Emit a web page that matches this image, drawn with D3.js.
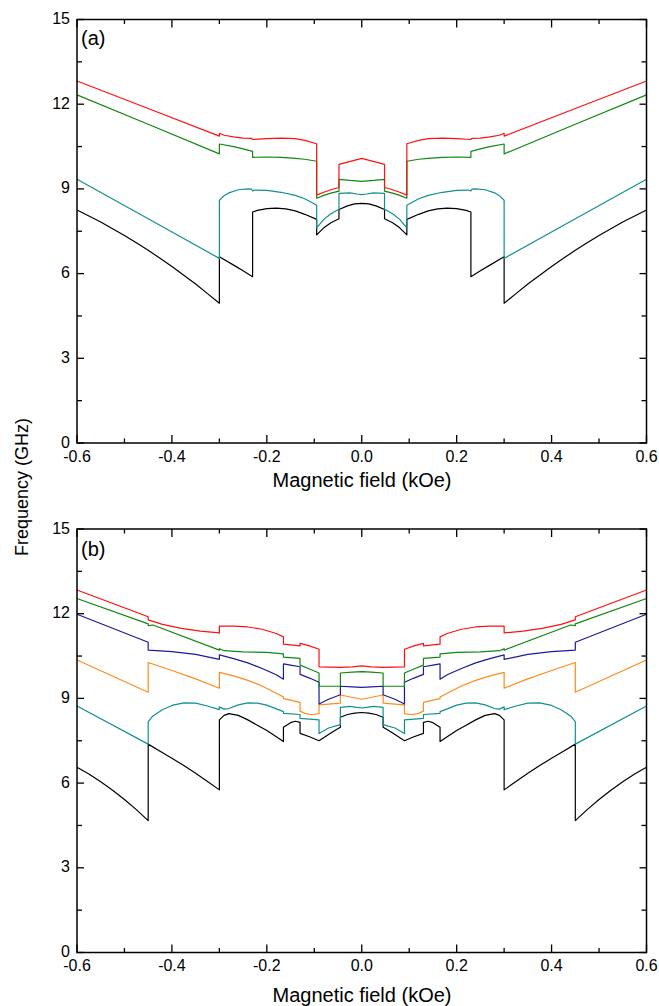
<!DOCTYPE html>
<html><head><meta charset="utf-8">
<script src="https://cdn.jsdelivr.net/npm/d3@7"></script>
<style>body{margin:0;background:#fff}svg{display:block}</style>
</head><body>
<script>
// ---- tick labels ----
const xTickLabels = ["-0.6", "-0.4", "-0.2", "0.0", "0.2", "0.4", "0.6"];
const yTickLabels = [0, 3, 6, 9, 12, 15];

// ---- panel (a) series : [field kOe, frequency GHz] ----
const aBlack = [[-0.6,8.25],[-0.575,8.04],[-0.55,7.83],[-0.525,7.59],[-0.5,7.35],[-0.475,7.09],[-0.45,6.83],[-0.425,6.54],[-0.4,6.25],[-0.375,5.94],[-0.35,5.63],[-0.325,5.29],[-0.3,4.95],[-0.3,6.6],[-0.27,6.3],[-0.25,6.1],[-0.23,5.89],[-0.23,8.18],[-0.22,8.24],[-0.2,8.3],[-0.18,8.32],[-0.16,8.29],[-0.14,8.22],[-0.12,8.1],[-0.095,7.92],[-0.095,7.37],[-0.08,7.62],[-0.065,7.8],[-0.048,7.94],[-0.048,8.27],[-0.03,8.4],[-0.015,8.47],[0,8.49],
  [0.015,8.47],[0.03,8.4],[0.048,8.27],[0.048,7.94],[0.065,7.8],[0.08,7.62],[0.095,7.37],[0.095,7.92],[0.12,8.1],[0.14,8.22],[0.16,8.29],[0.18,8.32],[0.2,8.3],[0.22,8.24],[0.23,8.18],[0.23,5.89],[0.25,6.1],[0.27,6.3],[0.3,6.6],[0.3,4.95],[0.325,5.29],[0.35,5.63],[0.375,5.94],[0.4,6.25],[0.425,6.54],[0.45,6.83],[0.475,7.09],[0.5,7.35],[0.525,7.59],[0.55,7.83],[0.575,8.04],[0.6,8.25]];
const aTeal = [[-0.6,9.34],[-0.45,7.94],[-0.3,6.54],[-0.3,8.6],[-0.29,8.76],[-0.28,8.86],[-0.26,8.97],[-0.24,9.0],[-0.232,8.99],[-0.23,8.93],[-0.225,8.96],[-0.2,8.95],[-0.17,8.88],[-0.14,8.77],[-0.12,8.65],[-0.095,8.42],[-0.095,7.62],[-0.08,7.92],[-0.065,8.12],[-0.048,8.28],[-0.048,8.84],[-0.025,8.86],[-0.01,8.82],[0,8.8],
  [0.01,8.82],[0.025,8.86],[0.048,8.84],[0.048,8.28],[0.065,8.12],[0.08,7.92],[0.095,7.62],[0.095,8.42],[0.12,8.65],[0.14,8.77],[0.17,8.88],[0.2,8.95],[0.225,8.96],[0.23,8.93],[0.232,8.99],[0.24,9.0],[0.26,8.97],[0.28,8.86],[0.29,8.76],[0.3,8.6],[0.3,6.54],[0.45,7.94],[0.6,9.34]];
const aGreen = [[-0.6,12.33],[-0.45,11.29],[-0.3,10.24],[-0.3,10.59],[-0.27,10.5],[-0.25,10.42],[-0.23,10.33],[-0.23,10.12],[-0.2,10.13],[-0.17,10.12],[-0.14,10.08],[-0.12,10.05],[-0.095,9.98],[-0.095,8.67],[-0.08,8.77],[-0.065,8.85],[-0.048,8.92],[-0.048,9.34],[-0.025,9.3],[0,9.27],
  [0.025,9.3],[0.048,9.34],[0.048,8.92],[0.065,8.85],[0.08,8.77],[0.095,8.67],[0.095,9.98],[0.12,10.05],[0.14,10.08],[0.17,10.12],[0.2,10.13],[0.23,10.12],[0.23,10.33],[0.25,10.42],[0.27,10.5],[0.3,10.59],[0.3,10.24],[0.45,11.29],[0.6,12.33]];
const aRed = [[-0.6,12.82],[-0.45,11.85],[-0.3,10.87],[-0.3,10.97],[-0.29,10.9],[-0.27,10.84],[-0.25,10.8],[-0.232,10.79],[-0.23,10.75],[-0.2,10.78],[-0.17,10.8],[-0.14,10.78],[-0.12,10.72],[-0.095,10.6],[-0.095,8.78],[-0.08,8.88],[-0.065,8.97],[-0.048,9.05],[-0.048,9.87],[0,10.08],
  [0.048,9.87],[0.048,9.05],[0.065,8.97],[0.08,8.88],[0.095,8.78],[0.095,10.6],[0.12,10.72],[0.14,10.78],[0.17,10.8],[0.2,10.78],[0.23,10.75],[0.232,10.79],[0.25,10.8],[0.27,10.84],[0.29,10.9],[0.3,10.97],[0.3,10.87],[0.45,11.85],[0.6,12.82]];

// ---- panel (b) series ----
const bBlack = [[-0.6,6.56],[-0.575,6.32],[-0.55,6.05],[-0.525,5.75],[-0.5,5.42],[-0.475,5.06],[-0.45,4.67],[-0.45,7.38],[-0.425,7.13],[-0.4,6.88],[-0.375,6.62],[-0.35,6.35],[-0.325,6.06],[-0.3,5.76],[-0.3,8.24],[-0.29,8.4],[-0.28,8.46],[-0.26,8.4],[-0.24,8.24],[-0.22,8.05],[-0.2,7.86],[-0.18,7.64],[-0.165,7.47],[-0.165,7.98],[-0.15,8.14],[-0.14,8.19],[-0.13,8.15],[-0.13,7.76],[-0.11,7.64],[-0.09,7.5],[-0.07,7.72],[-0.055,7.88],[-0.045,7.98],[-0.045,8.33],[-0.03,8.43],[-0.015,8.48],[0,8.5],
  [0.015,8.48],[0.03,8.43],[0.045,8.33],[0.045,7.98],[0.055,7.88],[0.07,7.72],[0.09,7.5],[0.11,7.64],[0.13,7.76],[0.13,8.15],[0.14,8.19],[0.15,8.14],[0.165,7.98],[0.165,7.47],[0.18,7.64],[0.2,7.86],[0.22,8.05],[0.24,8.24],[0.26,8.4],[0.28,8.46],[0.29,8.4],[0.3,8.24],[0.3,5.76],[0.325,6.06],[0.35,6.35],[0.375,6.62],[0.4,6.88],[0.425,7.13],[0.45,7.38],[0.45,4.67],[0.475,5.06],[0.5,5.42],[0.525,5.75],[0.55,6.05],[0.575,6.32],[0.6,6.56]];
const bTeal = [[-0.6,8.73],[-0.45,7.38],[-0.45,8.18],[-0.44,8.38],[-0.42,8.6],[-0.4,8.75],[-0.375,8.84],[-0.35,8.83],[-0.325,8.73],[-0.3,8.6],[-0.3,8.7],[-0.29,8.62],[-0.28,8.64],[-0.26,8.77],[-0.24,8.84],[-0.22,8.83],[-0.2,8.76],[-0.18,8.63],[-0.165,8.53],[-0.165,8.47],[-0.13,8.43],[-0.13,8.29],[-0.09,8.24],[-0.09,7.76],[-0.07,7.95],[-0.045,8.07],[-0.045,8.68],[-0.025,8.72],[-0.01,8.68],[0,8.66],
  [0.01,8.68],[0.025,8.72],[0.045,8.68],[0.045,8.07],[0.07,7.95],[0.09,7.76],[0.09,8.24],[0.13,8.29],[0.13,8.43],[0.165,8.47],[0.165,8.53],[0.18,8.63],[0.2,8.76],[0.22,8.83],[0.24,8.84],[0.26,8.77],[0.28,8.64],[0.29,8.62],[0.3,8.7],[0.3,8.6],[0.325,8.73],[0.35,8.83],[0.375,8.84],[0.4,8.75],[0.42,8.6],[0.44,8.38],[0.45,8.18],[0.45,7.38],[0.6,8.73]];
const bOrange = [[-0.6,10.36],[-0.45,9.22],[-0.45,10.27],[-0.4,9.99],[-0.35,9.69],[-0.3,9.36],[-0.3,9.92],[-0.27,9.8],[-0.24,9.64],[-0.21,9.44],[-0.18,9.18],[-0.165,9.05],[-0.165,8.99],[-0.15,8.94],[-0.13,8.86],[-0.13,8.55],[-0.12,8.47],[-0.105,8.42],[-0.09,8.46],[-0.09,8.77],[-0.07,8.8],[-0.045,8.83],[-0.045,9.12],[0,8.97],
  [0.045,9.12],[0.045,8.83],[0.07,8.8],[0.09,8.77],[0.09,8.46],[0.105,8.42],[0.12,8.47],[0.13,8.55],[0.13,8.86],[0.15,8.94],[0.165,8.99],[0.165,9.05],[0.18,9.18],[0.21,9.44],[0.24,9.64],[0.27,9.8],[0.3,9.92],[0.3,9.36],[0.35,9.69],[0.4,9.99],[0.45,10.27],[0.45,9.22],[0.6,10.36]];
const bBlue = [[-0.6,11.98],[-0.45,10.99],[-0.45,10.71],[-0.4,10.66],[-0.35,10.56],[-0.3,10.38],[-0.3,10.54],[-0.27,10.41],[-0.24,10.26],[-0.21,10.06],[-0.18,9.84],[-0.165,9.68],[-0.165,10.22],[-0.15,10.18],[-0.13,10.12],[-0.13,9.85],[-0.11,9.72],[-0.09,9.57],[-0.09,8.8],[-0.07,8.97],[-0.045,9.13],[-0.045,9.43],[-0.02,9.41],[0,9.39],
  [0.02,9.41],[0.045,9.43],[0.045,9.13],[0.07,8.97],[0.09,8.8],[0.09,9.57],[0.11,9.72],[0.13,9.85],[0.13,10.12],[0.15,10.18],[0.165,10.22],[0.165,9.68],[0.18,9.84],[0.21,10.06],[0.24,10.26],[0.27,10.41],[0.3,10.54],[0.3,10.38],[0.35,10.56],[0.4,10.66],[0.45,10.71],[0.45,10.99],[0.6,11.98]];
const bGreen = [[-0.6,12.54],[-0.45,11.64],[-0.45,11.58],[-0.44,11.6],[-0.3,10.71],[-0.3,10.76],[-0.29,10.69],[-0.25,10.65],[-0.2,10.63],[-0.165,10.58],[-0.165,10.46],[-0.13,10.42],[-0.13,10.18],[-0.11,10.04],[-0.09,9.9],[-0.09,9.43],[-0.045,9.43],[-0.045,9.9],[-0.02,9.93],[0,9.95],
  [0.02,9.93],[0.045,9.9],[0.045,9.43],[0.09,9.43],[0.09,9.9],[0.11,10.04],[0.13,10.18],[0.13,10.42],[0.165,10.46],[0.165,10.58],[0.2,10.63],[0.25,10.65],[0.29,10.69],[0.3,10.76],[0.3,10.71],[0.44,11.6],[0.45,11.58],[0.45,11.64],[0.6,12.54]];
const bRed = [[-0.6,12.84],[-0.45,11.89],[-0.45,11.78],[-0.42,11.62],[-0.38,11.48],[-0.34,11.38],[-0.3,11.32],[-0.3,11.56],[-0.27,11.56],[-0.24,11.53],[-0.21,11.45],[-0.18,11.3],[-0.165,11.18],[-0.165,10.92],[-0.13,10.86],[-0.13,10.95],[-0.11,10.86],[-0.09,10.74],[-0.09,10.12],[-0.045,10.1],[-0.02,10.12],[0,10.15],
  [0.02,10.12],[0.045,10.1],[0.09,10.12],[0.09,10.74],[0.11,10.86],[0.13,10.95],[0.13,10.86],[0.165,10.92],[0.165,11.18],[0.18,11.3],[0.21,11.45],[0.24,11.53],[0.27,11.56],[0.3,11.56],[0.3,11.32],[0.34,11.38],[0.38,11.48],[0.42,11.62],[0.45,11.78],[0.45,11.89],[0.6,12.84]];

const colors = {black:"#000000", teal:"#129090", green:"#118811", red:"#ff1010", orange:"#ff8c1a", blue:"#1a1a9a"};

const W = 659, H = 1006;
const svg = d3.select("body").append("svg").attr("width", W).attr("height", H);
const x = d3.scaleLinear().domain([-0.6, 0.6]).range([77, 646.5]);
const tickFont = "'Liberation Sans', Arial, sans-serif";

function panel(top, bottom, series, tag, tagBaseline, tickBase, labelBase) {
  const y = d3.scaleLinear().domain([0, 15]).range([bottom, top]);
  const g = svg.append("g");
  const line = d3.line().x(d => x(d[0])).y(d => y(d[1]));
  series.forEach(([data, col]) => {
    g.append("path").attr("d", line(data)).attr("fill", "none")
      .attr("stroke", colors[col]).attr("stroke-width", 1.2).attr("stroke-linejoin", "round");
  });
  const xMinor = d3.range(-6, 7).map(v => v / 10);
  const yMinor = d3.range(0, 11).map(v => v * 1.5);
  const ax = g.append("g").attr("stroke", "#000").attr("stroke-width", 1.3);
  xMinor.forEach(v => {
    const major = Math.round(v * 10) % 2 === 0;
    const L = major ? 8 : 4.5;
    ax.append("line").attr("x1", x(v)).attr("x2", x(v)).attr("y1", bottom).attr("y2", bottom - L);
    ax.append("line").attr("x1", x(v)).attr("x2", x(v)).attr("y1", top).attr("y2", top + L);
  });
  yMinor.forEach(v => {
    const major = Math.round(v / 1.5) % 2 === 0;
    const L = major ? 7 : 5;
    ax.append("line").attr("x1", x(-0.6)).attr("x2", x(-0.6) + L).attr("y1", y(v)).attr("y2", y(v));
    ax.append("line").attr("x1", x(0.6)).attr("x2", x(0.6) - L).attr("y1", y(v)).attr("y2", y(v));
  });
  g.append("rect").attr("x", x(-0.6)).attr("y", top).attr("width", x(0.6) - x(-0.6)).attr("height", bottom - top)
    .attr("fill", "none").attr("stroke", "#000").attr("stroke-width", 1.5);
  g.selectAll(".xt").data(xTickLabels).enter().append("text")
    .attr("x", d => x(+d)).attr("y", tickBase).attr("text-anchor", "middle")
    .attr("font-family", tickFont).attr("font-size", 16).text(d => d);
  g.selectAll(".yt").data(yTickLabels).enter().append("text")
    .attr("x", 70).attr("y", d => y(d) + 4.5).attr("text-anchor", "end")
    .attr("font-family", tickFont).attr("font-size", 16).text(d => d);
  g.append("text").attr("x", 362).attr("y", labelBase).attr("text-anchor", "middle")
    .attr("font-family", tickFont).attr("font-size", 20).text("Magnetic field (kOe)");
  g.append("text").attr("x", 81).attr("y", tagBaseline)
    .attr("font-family", tickFont).attr("font-size", 20).text(tag);
}

panel(19.5, 443, [[aBlack,"black"],[aTeal,"teal"],[aGreen,"green"],[aRed,"red"]], "(a)", 45, 461.5, 487);
panel(529, 952.5, [[bBlack,"black"],[bTeal,"teal"],[bOrange,"orange"],[bBlue,"blue"],[bGreen,"green"],[bRed,"red"]], "(b)", 556, 970.5, 1002);

svg.append("text").attr("transform", "translate(28,487) rotate(-90)").attr("text-anchor", "middle")
  .attr("font-family", tickFont).attr("font-size", 18).text("Frequency (GHz)");
</script>
</body></html>
